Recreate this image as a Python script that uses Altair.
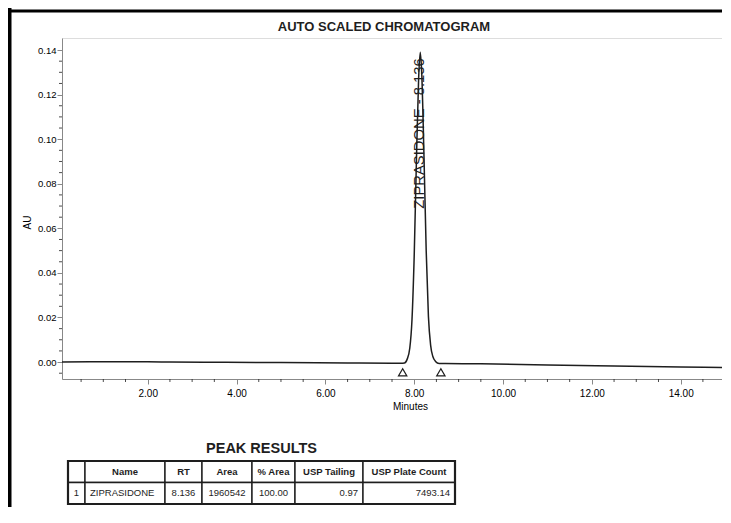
import altair as alt
import pandas as pd

# ---------------- data ----------------
times = [0.07, 1.00, 2.00, 2.50, 3.50, 5.00, 6.50, 7.50, 7.70, 7.78, 7.84, 7.90, 7.95,
         8.00, 8.05, 8.10, 8.136, 8.17, 8.22, 8.27, 8.32, 8.37, 8.42, 8.48, 8.56, 8.70,
         9.50, 11.00, 12.50, 14.00, 14.93]
au = [0.0000, 0.0001, 0.0001, 0.0000, -0.0001, -0.0002, -0.0004, -0.0005, -0.0005, -0.0004,
      0.0012, 0.0062, 0.0190, 0.0478, 0.0905, 0.1275, 0.1390, 0.1293, 0.0925, 0.0499,
      0.0205, 0.0075, 0.0025, 0.0003, -0.0006, -0.0006, -0.0008, -0.0013, -0.0018,
      -0.0022, -0.0024]

marker_times = [7.74, 8.60]
marker_au = [-0.0046, -0.0046]

peak_name = "ZIPRASIDONE"
peak_rt = 8.136
peak_label_au = 0.1363

chart_title = "AUTO SCALED CHROMATOGRAM"

x_ticks = [2, 4, 6, 8, 10, 12, 14]
x_minor = [0.5, 1.0, 1.5, 2.5, 3.0, 3.5, 4.5, 5.0, 5.5, 6.5, 7.0, 7.5, 8.5, 9.0, 9.5,
           10.5, 11.0, 11.5, 12.5, 13.0, 13.5, 14.5]
y_ticks = [0.00, 0.02, 0.04, 0.06, 0.08, 0.10, 0.12, 0.14]
y_minor = [-0.005, 0.005, 0.01, 0.015, 0.025, 0.03, 0.035, 0.045, 0.05, 0.055, 0.065,
           0.07, 0.075, 0.085, 0.09, 0.095, 0.105, 0.11, 0.115, 0.125, 0.13, 0.135]

table_title = "PEAK RESULTS"
table_headers = ["", "Name", "RT", "Area", "% Area", "USP Tailing", "USP Plate Count"]
table_row = ["1", "ZIPRASIDONE", "8.136", "1960542", "100.00", "0.97", "7493.14"]

# layout / style (not data)
col_widths = [17, 80, 37, 50, 43, 68, 92]
col_align = ["center", "left", "center", "center", "center", "right", "right"]
FONT = "Liberation Sans"
INK = "#1e1e1e"

# ---------------- chromatogram ----------------
trace_df = pd.DataFrame({"t": times, "au": au})
marker_df = pd.DataFrame({"t": marker_times, "au": marker_au})
label_df = pd.DataFrame({"t": [peak_rt], "au": [peak_label_au],
                         "name": [f"{peak_name} - {peak_rt:.3f}"]})
xminor_df = pd.DataFrame({"t": x_minor})
yminor_df = pd.DataFrame({"au": y_minor})
one = pd.DataFrame({"a": [0]})
title_df = pd.DataFrame({"label": [chart_title]})

x_enc = alt.X("t:Q",
              scale=alt.Scale(domain=[0.07, 14.93], nice=False, zero=False),
              axis=alt.Axis(values=x_ticks, format=".2f", title="Minutes", grid=False,
                            tickSize=5, labelPadding=4, labelFontSize=10,
                            titleFontSize=10, titleX=348, titleY=27,
                            titleAlign="center", titleBaseline="middle",
                            titleFontWeight="normal"))
y_enc = alt.Y("au:Q",
              scale=alt.Scale(domain=[-0.0076, 0.1454], nice=False, zero=False),
              axis=alt.Axis(values=y_ticks, format=".2f", title="AU", grid=False,
                            tickSize=5, labelPadding=1, labelFontSize=9.5,
                            titleFontSize=10, titleX=-35, titleY=184, titleAngle=270,
                            titleAlign="center", titleBaseline="middle",
                            titleFontWeight="normal"))

line = alt.Chart(trace_df).mark_line(color=INK, strokeWidth=1.5,
                                     interpolate="monotone").encode(x=x_enc, y=y_enc)

markers = alt.Chart(marker_df).mark_point(shape="triangle-up", size=70, filled=True,
                                          fill="white", stroke=INK, strokeWidth=1.2,
                                          opacity=1).encode(x=x_enc, y=y_enc)

label = alt.Chart(label_df).mark_text(angle=270, align="right", baseline="middle",
                                      font=FONT, fontSize=14.8, color=INK).encode(
    x=x_enc, y=y_enc, text="name:N")

yminor = alt.Chart(yminor_df).mark_rule(color=INK, strokeWidth=0.8).encode(
    y=y_enc, x=alt.value(-3), x2=alt.value(0))
xminor = alt.Chart(xminor_df).mark_rule(color=INK, strokeWidth=0.8).encode(
    x=x_enc, y=alt.value(341), y2=alt.value(344))

border_left = alt.Chart(one).mark_rule(color="black", strokeWidth=4).encode(
    x=alt.value(-52.5), y=alt.value(-30), y2=alt.value(470))
border_top = alt.Chart(one).mark_rule(color="black", strokeWidth=3).encode(
    y=alt.value(-27), x=alt.value(-54), x2=alt.value(660))

title_mark = alt.Chart(title_df).mark_text(align="center", baseline="middle", font=FONT,
                                           fontSize=13, fontWeight="bold",
                                           color=INK).encode(
    x=alt.value(322), y=alt.value(-11), text="label:N")

main = alt.layer(line, markers, label, yminor, xminor, border_left, border_top, title_mark)

# ---------------- peak results table ----------------
edges = [0]
for w in col_widths:
    edges.append(edges[-1] + w)
total = edges[-1]

cells = []
texts = []
for r, row in enumerate([table_headers, table_row]):
    for c in range(len(col_widths)):
        x0, x1 = edges[c], edges[c + 1]
        cells.append({"x0": x0, "x1": x1, "y0": r, "y1": r + 1})
        a = "center" if r == 0 else col_align[c]
        tx = (x0 + x1) / 2 if a == "center" else (x0 + 5 if a == "left" else x1 - 5)
        texts.append({"tx": tx, "ty": r + 0.5, "label": row[c], "align": a, "row": r})
cells_df = pd.DataFrame(cells)
texts_df = pd.DataFrame(texts)
outer_df = pd.DataFrame({"x0": [0], "x1": [total], "y0": [0], "y1": [2]})
ttl_df = pd.DataFrame({"tx": [total / 2], "ty": [-0.57], "label": [table_title]})

tx_scale = alt.Scale(domain=[0, total], range=[6, 393], nice=False, zero=False)
ty_scale = alt.Scale(domain=[0, 2], range=[423, 466], nice=False, zero=False)

cell_layer = alt.Chart(cells_df).mark_rect(fill="white", stroke=INK, strokeWidth=1.4).encode(
    x=alt.X("x0:Q", scale=tx_scale, axis=None), x2="x1",
    y=alt.Y("y0:Q", scale=ty_scale, axis=None), y2="y1")
outer_layer = alt.Chart(outer_df).mark_rect(fill="white", fillOpacity=0, stroke=INK,
                                            strokeWidth=2.2).encode(
    x=alt.X("x0:Q", scale=tx_scale, axis=None), x2="x1",
    y=alt.Y("y0:Q", scale=ty_scale, axis=None), y2="y1")


def text_layer(align, row, weight):
    return alt.Chart(texts_df).transform_filter(
        (alt.datum.align == align) & (alt.datum.row == row)
    ).mark_text(align=align, baseline="middle", font=FONT, fontSize=9.5,
                fontWeight=weight, color=INK).encode(
        x=alt.X("tx:Q", scale=tx_scale, axis=None),
        y=alt.Y("ty:Q", scale=ty_scale, axis=None),
        text="label:N")


head_txt = text_layer("center", 0, "bold")
row_c = text_layer("center", 1, "normal")
row_l = text_layer("left", 1, "normal")
row_r = text_layer("right", 1, "normal")

ttl_layer = alt.Chart(ttl_df).mark_text(align="center", baseline="middle", font=FONT,
                                        fontSize=14.5, fontWeight="bold", color=INK).encode(
    x=alt.X("tx:Q", scale=tx_scale, axis=None),
    y=alt.Y("ty:Q", scale=ty_scale, axis=None),
    text="label:N")

table = alt.layer(cell_layer, outer_layer, head_txt, row_c, row_l, row_r, ttl_layer)

chart = alt.layer(main, table).resolve_scale(
    x="independent", y="independent"
).properties(
    width=660, height=341,
    autosize=alt.AutoSizeParams(type="none"),
    padding={"left": 54, "top": 30, "right": 0, "bottom": 128},
).configure_view(
    stroke="#8a8a8a", strokeWidth=1
).configure_axis(
    domainColor=INK, tickColor=INK, labelColor=INK, titleColor=INK,
    labelFont=FONT, titleFont=FONT
).configure(background="white")

chart.save("out.html", embed_options={"renderer": "svg", "actions": False})
